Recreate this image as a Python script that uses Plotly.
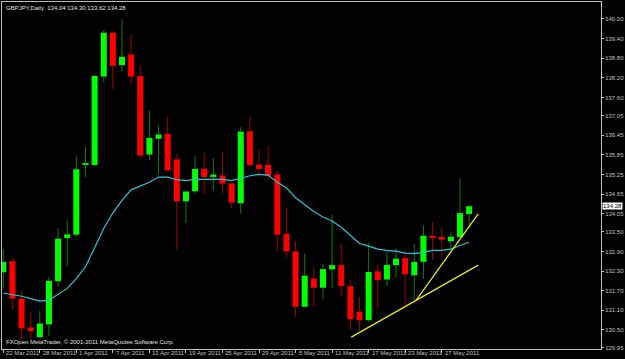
import plotly.graph_objects as go

# ---- data ----
bar_index = list(range(52))
opens = [132.26, 132.60, 131.46, 130.58, 130.28, 130.67, 131.99, 133.31, 133.41, 135.54,
         135.54, 138.24, 139.58, 138.59, 138.92, 138.26, 135.86, 136.34, 136.49, 135.71,
         134.43, 134.74, 135.42, 135.20, 135.22, 134.98, 134.37, 136.57, 135.55, 135.54,
         135.25, 133.44, 132.90, 131.21, 132.07, 131.79, 132.35, 132.48, 131.84, 131.06,
         130.80, 132.29, 132.04, 132.48, 132.70, 132.17, 132.58, 133.36, 133.34, 133.21,
         133.34, 134.04]
highs = [132.97, 132.70, 131.69, 131.05, 131.08, 132.12, 133.60, 133.85, 135.80, 136.10,
         138.28, 139.66, 139.62, 139.99, 139.53, 138.57, 137.20, 136.74, 137.02, 135.88,
         134.75, 135.81, 135.95, 135.75, 135.95, 135.00, 136.69, 137.02, 136.00, 136.10,
         135.37, 134.23, 133.21, 132.83, 132.43, 132.50, 134.03, 133.14, 132.02, 131.51,
         133.17, 132.50, 132.92, 132.99, 132.93, 133.12, 133.69, 133.80, 133.63, 133.49,
         135.14, 134.30]
lows = [131.77, 131.13, 130.21, 130.21, 130.25, 130.32, 131.82, 132.46, 133.34, 135.17,
        135.50, 138.08, 137.86, 138.39, 137.98, 135.73, 135.68, 135.25, 135.35, 132.96,
        133.77, 134.66, 134.66, 134.76, 134.68, 134.23, 134.05, 135.47, 135.17, 135.10,
        132.91, 132.73, 130.90, 131.19, 131.21, 131.44, 131.79, 131.51, 130.50, 130.50,
        130.75, 131.16, 131.84, 132.12, 131.26, 131.41, 132.07, 132.63, 132.70, 132.96,
        133.32, 133.62]
closes = [132.58, 131.46, 130.55, 130.47, 130.70, 132.00, 133.29, 133.42, 135.41, 135.56,
          138.26, 139.58, 138.57, 138.84, 138.24, 135.83, 136.37, 136.47, 135.37, 134.43,
          134.73, 135.42, 135.17, 135.25, 134.97, 134.39, 136.56, 135.54, 135.42, 135.21,
          133.41, 132.90, 131.21, 132.16, 131.79, 132.36, 132.48, 131.84, 130.83, 130.80,
          132.27, 132.02, 132.49, 132.68, 132.20, 132.58, 133.38, 133.31, 133.26, 133.35,
          134.07, 134.28]
ma_values = [131.63, 131.59, 131.53, 131.46, 131.38, 131.41, 131.59, 131.77, 132.07, 132.43,
             133.01, 133.60, 134.08, 134.46, 134.78, 134.89, 135.01, 135.17, 135.17, 135.09,
             135.06, 135.10, 135.10, 135.11, 135.10, 135.06, 135.14, 135.21, 135.25, 135.23,
             135.01, 134.84, 134.54, 134.33, 134.12, 133.95, 133.83, 133.64, 133.39, 133.14,
             133.06, 132.97, 132.93, 132.91, 132.85, 132.83, 132.87, 132.93, 132.93, 132.97,
             133.08, 133.18]
trend1_x = [38.1, 52.0]
trend1_y = [130.28, 132.48]
trend2_x = [45.15, 52.0]
trend2_y = [131.39, 134.05]

date_tick_index = [0, 4, 8, 12, 16, 20, 24, 28, 32, 36, 40, 44, 48]
date_tick_labels = ["22 Mar 2011", "28 Mar 2011", "1 Apr 2011", "7 Apr 2011", "13 Apr 2011",
                    "19 Apr 2011", "25 Apr 2011", "29 Apr 2011", "5 May 2011", "11 May 2011",
                    "17 May 2011", "23 May 2011", "27 May 2011"]
price_ticks = ["140.00", "139.40", "138.80", "138.20", "137.60", "137.05", "136.45", "135.85",
               "135.25", "134.65", "134.05", "133.50", "132.90", "132.30", "131.70", "131.10",
               "130.50", "129.95"]
title_text = "GBPJPY,Daily  134.04 134.30 133.62 134.28"
copyright_text = "FXOpen MetaTrader, \u00a9 2001-2011 MetaQuotes Software Corp."
last_price = 134.28

# ---- styles ----
BULL = "#00ff00"
BEAR = "#ff0000"
BULL_WICK = "#127a12"
BEAR_WICK = "#a00000"
FRAME = "#c0c0c0"
FONT = "Liberation Sans, Arial, sans-serif"

fig = go.Figure()

# wicks (split so they never cross the bodies)
for bull in (True, False):
    wx, wy = [], []
    for i, o, h, l, c in zip(bar_index, opens, highs, lows, closes):
        if (c >= o) != bull:
            continue
        top, bot = max(o, c), min(o, c)
        wx += [i, i, None, i, i, None]
        wy += [h, top, None, bot, l, None]
    fig.add_trace(go.Scatter(x=wx, y=wy, mode="lines",
                             line=dict(color=BULL_WICK if bull else BEAR_WICK, width=1),
                             hoverinfo="skip"))

# bodies
body_base = [min(o, c) for o, c in zip(opens, closes)]
body_h = [max(abs(c - o), 0.035) for o, c in zip(opens, closes)]
body_col = [BULL if c >= o else BEAR for o, c in zip(opens, closes)]
fig.add_trace(go.Bar(x=bar_index, y=body_h, base=body_base, width=0.66,
                     marker=dict(color=body_col, line=dict(width=0))))

# moving average
fig.add_trace(go.Scatter(x=bar_index, y=ma_values, mode="lines",
                         line=dict(color="#22c8d6", width=1.2)))

# trend lines
for tx, ty in ((trend1_x, trend1_y), (trend2_x, trend2_y)):
    fig.add_trace(go.Scatter(x=tx, y=ty, mode="lines",
                             line=dict(color="#e8e800", width=1.3)))

annotations = []
for idx, lab in zip(date_tick_index, date_tick_labels):
    annotations.append(dict(x=idx, xref="x", y=0, yref="paper", yanchor="top",
                            xanchor="left", xshift=1, yshift=1, text=lab, showarrow=False,
                            font=dict(family=FONT, size=6, color=FRAME)))
annotations.append(dict(x=0, xref="paper", y=1, yref="paper", xanchor="left", yanchor="top",
                        xshift=2, yshift=-1, text=title_text, showarrow=False,
                        font=dict(family=FONT, size=6, color="#e0e0e0")))
annotations.append(dict(x=0, xref="paper", y=0, yref="paper", xanchor="left", yanchor="bottom",
                        xshift=2, yshift=2, text=copyright_text, showarrow=False,
                        font=dict(family=FONT, size=6, color="#e0e0e0")))
annotations.append(dict(x=1, xref="paper", y=last_price, yref="y", xanchor="left",
                        yanchor="middle", xshift=1, text=f"{last_price:.2f}", showarrow=False,
                        bgcolor="#ffffff", borderpad=0,
                        font=dict(family=FONT, size=6, color="#000000")))

fig.update_layout(
    width=625, height=359,
    margin=dict(l=1, r=22, t=1, b=10),
    paper_bgcolor="#000000", plot_bgcolor="#000000",
    showlegend=False, barmode="overlay",
    annotations=annotations,
    xaxis=dict(range=[-0.14, 65.44], showgrid=False, zeroline=False,
               showline=True, mirror=True, linecolor=FRAME, linewidth=1,
               tickvals=date_tick_index, ticks="outside", ticklen=3,
               tickcolor=FRAME, showticklabels=False, fixedrange=True),
    yaxis=dict(side="right", range=[129.919, 140.518], showgrid=False, zeroline=False,
               showline=True, mirror=True, linecolor=FRAME, linewidth=1,
               tickvals=[float(t) for t in price_ticks], ticktext=price_ticks,
               ticks="outside", ticklen=2, tickcolor=FRAME,
               tickfont=dict(family=FONT, size=6, color=FRAME), fixedrange=True),
)

fig.write_html("out.html")
